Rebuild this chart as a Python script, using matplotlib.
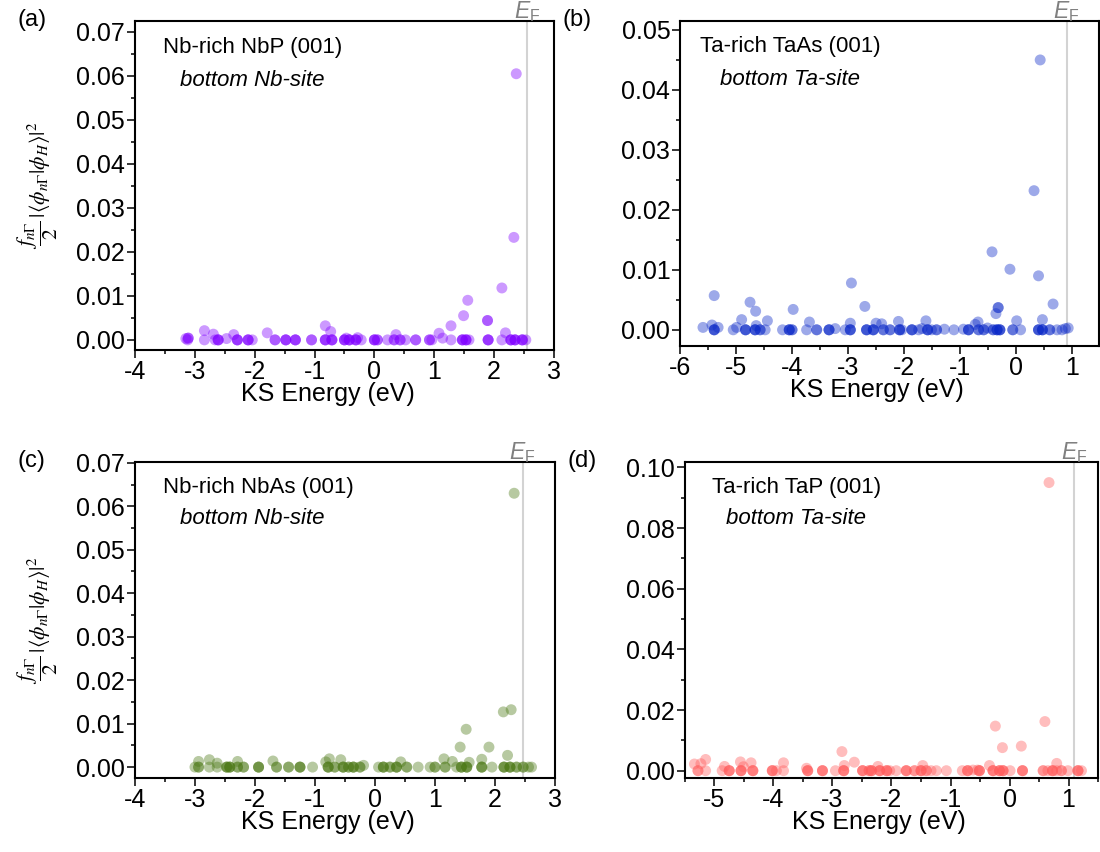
import numpy as np
import matplotlib
matplotlib.use('Agg')
import matplotlib.pyplot as plt
from matplotlib.ticker import MultipleLocator, FormatStrFormatter

plt.rcParams['font.family'] = ['Liberation Sans', 'DejaVu Sans']
plt.rcParams['axes.unicode_minus'] = False
plt.rcParams['mathtext.fontset'] = 'custom'
plt.rcParams['mathtext.rm'] = 'Liberation Sans'
plt.rcParams['mathtext.it'] = 'Liberation Sans:italic'

# KS energy (eV), weight, number of (degenerate) states at that point
nbp_E = [-3.15, -3.11, -3.12, -2.84, -2.84, -2.69, -2.66, -2.61, -2.47, -2.35, -2.29, -2.11,
         -2.04, -1.79, -1.66, -1.48, -1.32, -1.05, -0.82, -0.73, -0.82, -0.71, -0.50, -0.47,
         -0.42, -0.31, -0.28, -0.22, 0.00, 0.05, 0.22, 0.33, 0.36, 0.43, 0.52, 0.69, 0.92,
         0.96, 1.08, 1.14, 1.28, 1.28, 1.49, 1.56, 1.47, 1.53, 1.58, 1.89, 1.90, 2.13, 2.13,
         2.19, 2.28, 2.35, 2.47, 2.53, 2.33, 2.37]
nbp_w = [0.0003, 0.0004, 0.0, 0.0021, 0.0, 0.0013, 0.0, 0.0, 0.0003, 0.0012, 0.0, 0.0,
         0.0, 0.0016, 0.0, 0.0, 0.0, 0.0, 0.0032, 0.0019, 0.0, 0.0, 0.0, 0.0004,
         0.0, 0.0, 0.0005, 0.0, 0.0, 0.0, 0.0, 0.0, 0.0012, 0.0, 0.0, 0.0, 0.0,
         0.0, 0.0015, 0.0004, 0.0032, 0.0, 0.0055, 0.0090, 0.0, 0.0, 0.0, 0.0044, 0.0, 0.0118, 0.0,
         0.0016, 0.0, 0.0, 0.0, 0.0, 0.0233, 0.0605]
nbp_n = [1, 2, 1, 1, 1, 1, 1, 3, 1, 1, 3, 3,
         1, 1, 2, 3, 3, 2, 1, 1, 3, 3, 3, 1,
         3, 3, 1, 1, 3, 2, 1, 2, 1, 2, 1, 2, 2,
         1, 1, 1, 1, 1, 1, 1, 3, 3, 1, 2, 3, 1, 1,
         1, 3, 3, 3, 1, 1, 1]

taas_E = [-5.59, -5.43, -5.39, -5.39, -5.32, -5.05, -4.99, -4.90, -4.83, -4.75, -4.65, -4.64,
          -4.66, -4.57, -4.48, -4.44, -4.17, -4.05, -4.00, -3.98, -3.74, -3.69, -3.56, -3.34,
          -3.23, -3.05, -2.96, -2.96, -2.94, -2.70, -2.67, -2.55, -2.50, -2.40, -2.37, -2.25,
          -2.10, -2.08, -2.04, -1.86, -1.74, -1.68, -1.61, -1.58, -1.51, -1.42, -1.28, -1.11,
          -0.94, -0.85, -0.73, -0.68, -0.67, -0.58, -0.51, -0.43, -0.41, -0.36, -0.34, -0.32,
          -0.29, -0.11, -0.06, 0.01, 0.08, 0.32, 0.40, 0.40, 0.43, 0.47, 0.47, 0.60, 0.66,
          0.73, 0.82, 0.88, 0.93]
taas_w = [0.0004, 0.0008, 0.0057, 0.0, 0.0004, 0.0, 0.0004, 0.0017, 0.0, 0.0046, 0.0031, 0.0007,
          0.0, 0.0, 0.0, 0.0015, 0.0, 0.0, 0.0, 0.0034, 0.0, 0.0013, 0.0, 0.0,
          0.0002, 0.0, 0.0011, 0.0, 0.0078, 0.0039, 0.0, 0.0, 0.0011, 0.0010, 0.0, 0.0,
          0.0014, 0.0, 0.0, 0.0, 0.0, 0.0002, 0.0015, 0.0, 0.0, 0.0, 0.0001, 0.0,
          0.0001, 0.0, 0.0009, 0.0013, 0.0, 0.0, 0.0003, 0.0130, 0.0, 0.0027, 0.0, 0.0037,
          0.0, 0.0101, 0.0, 0.0015, 0.0, 0.0232, 0.0090, 0.0, 0.0450, 0.0017, 0.0, 0.0, 0.0043,
          0.0, 0.0, 0.0002, 0.0003]
taas_n = [1, 1, 1, 3, 1, 1, 1, 1, 3, 1, 1, 1,
          3, 2, 1, 1, 1, 3, 2, 1, 1, 1, 2, 3,
          1, 1, 1, 3, 1, 1, 3, 3, 1, 1, 2, 2,
          1, 3, 1, 3, 1, 1, 1, 3, 1, 2, 1, 1,
          1, 3, 1, 1, 2, 2, 1, 1, 2, 1, 3, 2,
          3, 1, 2, 1, 1, 1, 1, 3, 1, 1, 3, 2, 1,
          1, 1, 1, 1]

nbas_E = [-3.00, -2.94, -2.94, -2.76, -2.76, -2.63, -2.63, -2.47, -2.42, -2.29, -2.29, -2.19,
          -1.94, -1.70, -1.64, -1.44, -1.25, -1.04, -0.82, -0.76, -0.78, -0.67, -0.57, -0.53,
          -0.44, -0.36, -0.25, -0.19, 0.06, 0.14, 0.25, 0.36, 0.43, 0.53, 0.72, 0.92, 1.00,
          1.15, 1.17, 1.29, 1.36, 1.42, 1.44, 1.52, 1.53, 1.57, 1.78, 1.78, 1.90, 1.95, 2.14,
          2.15, 2.21, 2.25, 2.27, 2.32, 2.36, 2.47, 2.56, 2.61]
nbas_w = [0.0, 0.0, 0.0013, 0.0017, 0.0, 0.0009, 0.0, 0.0, 0.0, 0.0013, 0.0, 0.0,
          0.0, 0.0014, 0.0, 0.0, 0.0, 0.0, 0.0012, 0.0019, 0.0, 0.0, 0.0017, 0.0,
          0.0, 0.0, 0.0, 0.0004, 0.0, 0.0, 0.0, 0.0, 0.0012, 0.0, 0.0, 0.0, 0.0,
          0.0019, 0.0, 0.0013, 0.0, 0.0046, 0.0, 0.0087, 0.0, 0.0011, 0.0018, 0.0, 0.0046, 0.0, 0.0127,
          0.0, 0.0027, 0.0, 0.0132, 0.0630, 0.0, 0.0, 0.0, 0.0]
nbas_n = [1, 2, 1, 1, 1, 1, 1, 3, 3, 1, 2, 2,
          3, 1, 2, 2, 3, 1, 1, 1, 3, 2, 1, 3,
          2, 3, 2, 1, 1, 3, 2, 3, 1, 2, 1, 1, 2,
          1, 2, 1, 1, 1, 3, 1, 3, 1, 1, 3, 1, 1, 1,
          3, 1, 3, 1, 1, 2, 2, 1, 1]

tap_E = [-5.34, -5.28, -5.23, -5.15, -5.15, -4.87, -4.83, -4.75, -4.56, -4.55, -4.51, -4.38,
         -4.35, -4.02, -3.95, -3.83, -3.83, -3.44, -3.42, -3.17, -2.95, -2.84, -2.81, -2.80,
         -2.63, -2.49, -2.38, -2.34, -2.23, -2.20, -2.08, -2.03, -1.92, -1.75, -1.61, -1.50,
         -1.47, -1.41, -1.33, -1.24, -1.07, -0.80, -0.71, -0.62, -0.54, -0.51, -0.34, -0.28,
         -0.24, -0.17, -0.12, -0.11, 0.01, 0.20, 0.22, 0.57, 0.60, 0.65, 0.67, 0.73, 0.80,
         0.80, 0.88, 0.99, 1.16, 1.22]
tap_w = [0.0022, 0.0, 0.0023, 0.0037, 0.0, 0.0, 0.0014, 0.0, 0.0029, 0.0, 0.0013, 0.0026,
         0.0, 0.0, 0.0, 0.0026, 0.0, 0.0008, 0.0, 0.0, 0.0, 0.0063, 0.0, 0.0017,
         0.0028, 0.0, 0.0, 0.0, 0.0014, 0.0, 0.0, 0.0, 0.0, 0.0, 0.0, 0.0,
         0.0017, 0.0, 0.0, 0.0, 0.0, 0.0, 0.0, 0.0002, 0.0002, 0.0, 0.0017, 0.0,
         0.0147, 0.0, 0.0076, 0.0, 0.0, 0.0081, 0.0, 0.0, 0.0162, 0.0, 0.0950, 0.0, 0.0024,
         0.0, 0.0, 0.0, 0.0, 0.0]
tap_n = [1, 2, 1, 1, 1, 1, 1, 3, 1, 3, 1, 1,
         3, 3, 1, 1, 1, 1, 3, 3, 1, 1, 3, 1,
         1, 3, 2, 3, 1, 3, 3, 1, 1, 3, 2, 3,
         1, 2, 1, 1, 1, 1, 3, 1, 1, 3, 1, 3,
         1, 3, 1, 3, 1, 1, 3, 2, 1, 1, 1, 3, 1,
         1, 2, 1, 3, 1]

panels = [
    dict(E=nbp_E, w=nbp_w, n=nbp_n, color='#8000FF', EF=2.545, tag='(a)',
         title='Nb-rich NbP (001)', site='bottom Nb-site',
         xlim=(-4, 3), ylim=(-0.0023, 0.0725), ymajor=0.01,
         rect=[0.1227, 0.5892, 0.3809, 0.3862], tx=(0.067, 0.107)),
    dict(E=taas_E, w=taas_w, n=taas_n, color='#0A28C8', EF=0.90, tag='(b)',
         title='Ta-rich TaAs (001)', site='bottom Ta-site',
         xlim=(-6, 1.48), ylim=(-0.0027, 0.0515), ymajor=0.01,
         rect=[0.6182, 0.5939, 0.3809, 0.3815], tx=(0.048, 0.095)),
    dict(E=nbas_E, w=nbas_w, n=nbas_n, color='#4B7814', EF=2.46, tag='(c)',
         title='Nb-rich NbAs (001)', site='bottom Nb-site',
         xlim=(-4, 3), ylim=(-0.0025, 0.0702), ymajor=0.01,
         rect=[0.1227, 0.0869, 0.3818, 0.3709], tx=(0.067, 0.107)),
    dict(E=tap_E, w=tap_w, n=tap_n, color='#FF5A5A', EF=1.10, tag='(d)',
         title='Ta-rich TaP (001)', site='bottom Ta-site',
         xlim=(-5.5, 1.5), ylim=(-0.0024, 0.1018), ymajor=0.02,
         rect=[0.6227, 0.0869, 0.3755, 0.3709], tx=(0.065, 0.099)),
]

ylab = r'$\dfrac{f_{n\Gamma}}{2}\,|\langle\phi_{n\Gamma}|\phi_H\rangle|^2$'

fig = plt.figure(figsize=(11, 8.52), dpi=100)
for i, p in enumerate(panels):
    ax = fig.add_axes(p['rect'])
    x = np.repeat(p['E'], p['n'])
    y = np.repeat(p['w'], p['n'])
    ax.axvline(p['EF'], color='#D3D3D3', lw=1.5, zorder=1)
    ax.scatter(x, y, s=62, color=p['color'], alpha=0.4, edgecolors='none', zorder=2)
    ax.set_xlim(*p['xlim'])
    ax.set_ylim(*p['ylim'])
    ax.xaxis.set_major_locator(MultipleLocator(1))
    ax.xaxis.set_minor_locator(MultipleLocator(0.5))
    ax.yaxis.set_major_locator(MultipleLocator(p['ymajor']))
    ax.yaxis.set_minor_locator(MultipleLocator(p['ymajor'] / 2))
    ax.yaxis.set_major_formatter(FormatStrFormatter('%.2f'))
    ax.xaxis.set_major_formatter(FormatStrFormatter('%g'))
    ax.tick_params(which='major', direction='out', length=5.5, width=1.1, labelsize=18, pad=1.5)
    ax.tick_params(which='minor', direction='out', length=3, width=1.1)
    for s in ax.spines.values():
        s.set_linewidth(1.5)
    ax.set_xlabel('KS Energy (eV)', fontsize=18, labelpad=-1)
    ax.xaxis.label.set_x(0.46 if i % 2 == 0 else 0.47)
    if i % 2 == 0:
        ax.set_ylabel(ylab, fontsize=15.5, math_fontfamily='stix')
        ax.yaxis.set_label_coords(-0.178, 0.5)
    ax.text(p['tx'][0], 0.92, p['title'], transform=ax.transAxes, fontsize=16,
            ha='left', va='center')
    ax.text(p['tx'][1], 0.82, p['site'], transform=ax.transAxes, fontsize=16,
            style='italic', ha='left', va='center')
    ax.annotate(r'$E_\mathrm{F}$', xy=(p['EF'], 1.0), xycoords=('data', 'axes fraction'),
                xytext=(0, -2.5), textcoords='offset points',
                fontsize=16.5, color='#808080', ha='center', va='bottom')
    # panel tag sits left of the y tick labels
    x0 = p['rect'][0] - 0.107
    fig.text(x0, p['rect'][1] + p['rect'][3] + 0.001, p['tag'], fontsize=17,
             ha='left', va='center')

fig.savefig('out.png', dpi=100)
